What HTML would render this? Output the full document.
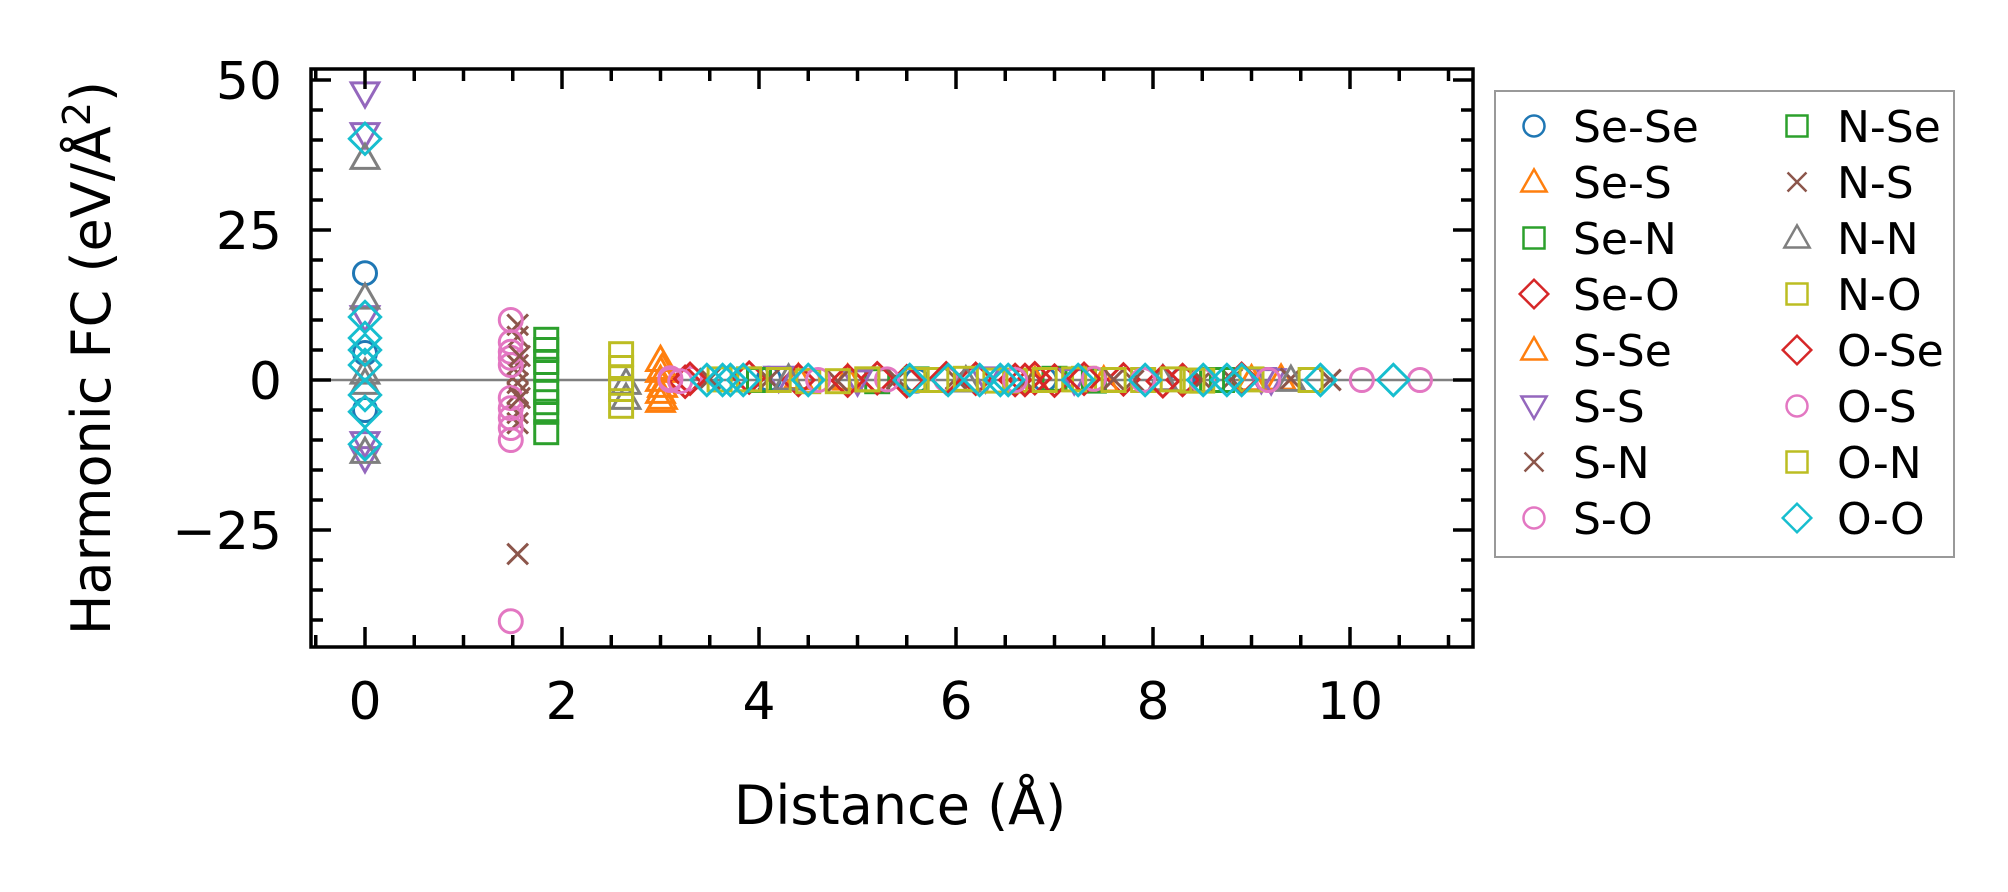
<!DOCTYPE html>
<html><head><meta charset="utf-8"><style>
html,body{margin:0;padding:0;background:#fff;}
svg{display:block;font-family:"DejaVu Sans","Liberation Sans",sans-serif;}
</style></head><body>
<svg id="chart" width="2008" height="892" viewBox="0 0 2008 892" xmlns="http://www.w3.org/2000/svg">
<rect width="2008" height="892" fill="#fff"/>
<g id="plot"></g>
<g id="axes"></g>
<g id="legend"></g>
</svg>
<script>
const seriesNames = ["Se-Se","Se-S","Se-N","Se-O","S-Se","S-S","S-N","S-O","N-Se","N-S","N-N","N-O","O-Se","O-S","O-N","O-O"];
const seriesMarkers = ["o","^","s","D","^","v","x","o","s","x","^","s","D","o","s","D"];
const seriesColors = ["#1f77b4","#ff7f0e","#2ca02c","#d62728","#ff7f0e","#9467bd","#8c564b","#e377c2","#2ca02c","#8c564b","#7f7f7f","#bcbd22","#d62728","#e377c2","#bcbd22","#17becf"];
const xTicks = [0,2,4,6,8,10];
const yTicks = [-25,0,25,50];
const yTickLabels = ["\u221225","0","25","50"];

const x_SeSe = [0,0,0,4.1,5.6,6.9,8.3];
const y_SeSe = [17.8,4.5,-5,0.2,-0.1,0.1,0];
const x_SeS = [3.0,3.0,3.0,3.0,3.0,4.4,6.8,9.3];
const y_SeS = [3.3,1.5,0,-2,-3.5,0.3,-0.2,0.2];
const x_SeN = [1.84,1.84,1.84,1.84,3.9,5.2,7.0,8.7];
const y_SeN = [6.7,3,-2,-5.3,0.1,-0.2,0.2,0];
const x_SeO = [3.25,3.9,4.4,5.2,5.5,6.2,6.6,6.8,7.0,7.7,8.3,8.9];
const y_SeO = [-0.3,0.4,0,0.3,-0.2,0.2,0,0.3,-0.1,0.1,0,0.2];
const x_SSe = [3.02,3.02,3.02,4.9,7.5,9.0];
const y_SSe = [2,-1,-3,0.2,-0.1,0.1];
const x_SS = [0,0,0,0,0,4.2,5.0,6.3,7.2,9.1,9.2];
const y_SS = [47.8,41,10.5,-10.5,-13,0.4,-0.2,0.3,0,0.2,0];
const x_SN = [1.55,1.55,1.55,1.55,1.55,1.55,1.55,1.55,1.55,3.5,4.8,6.0,7.8,8.8,9.8];
const y_SN = [9.2,7.2,2.5,1.2,-0.5,-2.2,-5.5,-7.2,-29,0.2,-0.2,0.2,-0.1,0.1,0];
const x_SO = [1.48,1.48,1.48,1.48,1.48,1.48,1.48,1.48,1.48,1.48,1.48,3.1,3.3,4.5,5.9];
const y_SO = [10,6.3,4.7,3.7,2.5,-3,-4.7,-6.3,-8,-10,-40.2,0,0.2,-0.1,0.1];
const x_NSe = [1.84,1.84,1.84,1.84,4.0,5.6,7.4,8.6];
const y_NSe = [5,1.7,-3.7,-8.7,0,0.1,-0.1,0];
const x_NS = [1.57,1.57,4.1,5.4,6.7,7.6,8.5,9.4,9.8];
const y_NS = [4,-3,0.1,0.2,-0.2,0.1,0,0.2,0];
const x_NN = [0,0,0,0,0,2.65,2.65,4.3,6.1,8.1,9.4];
const y_NN = [37,13.7,1.2,-0.5,-12,-3,-0.5,0.2,-0.1,0.1,0];
const x_NO = [2.6,2.6,2.6,3.9,4.5,5.1,5.8,6.6,7.3,7.9,8.5,9.0];
const y_NO = [4.3,0.3,-1.5,0.1,-0.2,0.1,0,-0.1,0.2,0,-0.1,0.1];
const x_OSe = [3.3,4.9,5.9,6.7,7.3,8.1,8.9];
const y_OSe = [0.2,-0.1,0.3,0,0.2,-0.2,0.1];
const x_OS = [3.1,3.2,4.6,5.3,6.6,7.4,7.9,8.5,9.17,10.12,10.71];
const y_OS = [0.3,-0.2,0,0.1,0,0.2,0,-0.1,0,0,0];
const x_ON = [2.6,2.6,3.6,4.2,4.8,5.1,5.6,6.1,6.4,6.9,7.2,7.6,8.2,8.4,9.6];
const y_ON = [2,-4.3,0.1,0,-0.2,0.1,0,0.2,-0.1,0,0.1,0,0.1,-0.1,0];
const x_OO = [0,0,0,0,0,0,0,0,3.47,3.63,3.71,3.84,4.5,5.53,5.92,6.24,6.45,6.53,7.24,7.92,8.51,8.75,8.9,9.7,10.44];
const y_OO = [40.2,10.5,7,5,2.5,-2.5,-5.3,-10.7,0,0,0,0,0,0,0,0,0,0,0,0,0,0,0,0,0];

const xs = [x_SeSe,x_SeS,x_SeN,x_SeO,x_SSe,x_SS,x_SN,x_SO,x_NSe,x_NS,x_NN,x_NO,x_OSe,x_OS,x_ON,x_OO];
const ys = [y_SeSe,y_SeS,y_SeN,y_SeO,y_SSe,y_SS,y_SN,y_SO,y_NSe,y_NS,y_NN,y_NO,y_OSe,y_OS,y_ON,y_OO];

const L=311,R=1473,T=69,B=647;
function X(v){return 365+v*98.5;}
function Y(v){return 380-v*6;}
const NS="http://www.w3.org/2000/svg";
function mk(tag,attrs,parent){const e=document.createElementNS(NS,tag);for(const k in attrs)e.setAttribute(k,attrs[k]);parent.appendChild(e);return e;}

function marker(parent,type,cx,cy,color,s,w){
  const a={fill:"none",stroke:color,"stroke-width":w};
  let e;
  if(type==="o"){e=mk("circle",Object.assign({cx:cx,cy:cy,r:s*0.5},a),parent);}
  else if(type==="s"){e=mk("rect",Object.assign({x:cx-s*0.5,y:cy-s*0.5,width:s,height:s},a),parent);}
  else if(type==="D"){const d=s*0.68;e=mk("polygon",Object.assign({points:`${cx},${cy-d} ${cx+d},${cy} ${cx},${cy+d} ${cx-d},${cy}`},a),parent);}
  else if(type==="^"){const d=s*0.6;e=mk("polygon",Object.assign({points:`${cx},${cy-d} ${cx+d},${cy+d*0.75} ${cx-d},${cy+d*0.75}`},a),parent);}
  else if(type==="v"){const d=s*0.6;e=mk("polygon",Object.assign({points:`${cx},${cy+d} ${cx+d},${cy-d*0.75} ${cx-d},${cy-d*0.75}`},a),parent);}
  else if(type==="x"){const d=s*0.45;e=mk("path",Object.assign({d:`M${cx-d},${cy-d}L${cx+d},${cy+d}M${cx-d},${cy+d}L${cx+d},${cy-d}`},a),parent);}
  return e;
}

const plot=document.getElementById("plot");
const zl=mk("line",{x1:L,x2:R,y1:Y(0),y2:Y(0),stroke:"#808080","stroke-width":2.5},plot);


for(let i=0;i<seriesNames.length;i++){
  const g=mk("g",{},plot);
  
  
  for(let j=0;j<xs[i].length;j++){
    const m=marker(g,seriesMarkers[i],X(xs[i][j]),Y(ys[i][j]),seriesColors[i],23,3);
    
    
  }
}

const axes=document.getElementById("axes");
const fr=mk("rect",{x:L,y:T,width:R-L,height:B-T,fill:"none",stroke:"#000","stroke-width":3.5},axes);


for(let v=-0.5;v<=11.01;v+=0.5){
  const major=Math.abs(v/2-Math.round(v/2))<1e-6; const len=major?20:12; const x=X(v);
  if(x<L||x>R)continue;
  mk("line",{x1:x,x2:x,y1:B,y2:B-len,stroke:"#000","stroke-width":3.5},axes);
  mk("line",{x1:x,x2:x,y1:T,y2:T+len,stroke:"#000","stroke-width":3.5},axes);
}
for(let v=-40;v<=50;v+=5){
  const major=v%25===0; const len=major?20:12; const y=Y(v);
  mk("line",{x1:L,x2:L+len,y1:y,y2:y,stroke:"#000","stroke-width":3.5},axes);
  mk("line",{x1:R,x2:R-len,y1:y,y2:y,stroke:"#000","stroke-width":3.5},axes);
}
xTicks.forEach(v=>{
  const t=mk("text",{x:X(v),y:719,"text-anchor":"middle","font-size":52,fill:"#000"},axes);
  t.textContent=String(v);
  
  
});
yTicks.forEach((v,i)=>{
  const t=mk("text",{x:282,y:Y(v)+19,"text-anchor":"end","font-size":52,fill:"#000"},axes);
  t.textContent=yTickLabels[i];
  
  
});
const xt=mk("text",{x:900,y:824,"text-anchor":"middle","font-size":54,fill:"#000"},axes);
xt.textContent="Distance (\u00c5)";


const yt=mk("text",{x:0,y:0,"text-anchor":"middle","font-size":54,fill:"#000",transform:"translate(110,358) rotate(-90)"},axes);
yt.innerHTML='Harmonic FC (eV/\u00c5<tspan dy="-20" font-size="38">2</tspan><tspan dy="20">)</tspan>';



const lg=document.getElementById("legend");
const lb=mk("rect",{x:1495,y:91,width:459,height:466,fill:"#fff",stroke:"#999","stroke-width":2},lg);


for(let i=0;i<seriesNames.length;i++){
  const col=Math.floor(i/8), row=i%8;
  const mx=col?1797:1534, tx=col?1837:1573, cy=126+row*56;
  const g=mk("g",{},lg);
  
  
  marker(g,seriesMarkers[i],mx,cy,seriesColors[i],21,2.5);
  const t=mk("text",{x:tx,y:cy+16,"font-size":44,fill:"#000"},g);
  t.textContent=seriesNames[i];
}
</script>
</body></html>
